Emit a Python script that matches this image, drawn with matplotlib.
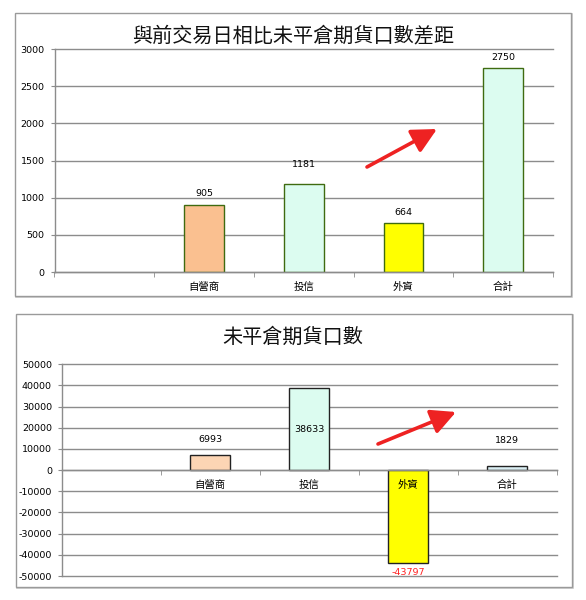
import numpy as np
import matplotlib
matplotlib.use("Agg")
import matplotlib.pyplot as plt
from matplotlib.patches import Rectangle

plt.rcParams['axes.unicode_minus'] = False
plt.rcParams['font.family'] = ['DejaVu Sans', 'Noto Sans CJK TC']

# ---------------- data ----------------
categories = ['自營商', '投信', '外資', '合計']
diff_values = [905, 1181, 664, 2750]          # 與前交易日相比未平倉期貨口數差距
oi_values = [6993, 38633, -43797, 1829]       # 未平倉期貨口數
top_title = '與前交易日相比未平倉期貨口數差距'
bottom_title = '未平倉期貨口數'
top_yticks = [0, 500, 1000, 1500, 2000, 2500, 3000]
bottom_yticks = [-50000, -40000, -30000, -20000, -10000, 0, 10000, 20000, 30000, 40000, 50000]

# ---------------- styles ----------------
top_colors = ['#FAC090', '#DCFCF0', '#FFFF00', '#DCFCF0']
top_edge = '#3F6B10'
bot_colors = ['#FCD5B4', '#DCFCF0', '#FFFF00', '#DAEEF3']
bot_edge = '#222222'
grid_c = '#8C8C8C'
axis_c = '#8C8C8C'
CJK = ['Noto Sans CJK TC', 'DejaVu Sans']

W, H = 586, 600
fig = plt.figure(figsize=(W / 100, H / 100), dpi=100)


def panel(x0, y0, x1, y1):
    # image pixel coords (top-left origin)
    fig.patches.append(Rectangle(((x0 + 1) / W, 1 - (y1 + 1) / H), (x1 - x0) / W, (y1 - y0) / H,
                                 transform=fig.transFigure, facecolor='none',
                                 edgecolor='#C8C8C8', lw=1.2, zorder=-2))
    fig.patches.append(Rectangle((x0 / W, 1 - y1 / H), (x1 - x0) / W, (y1 - y0) / H,
                                 transform=fig.transFigure, facecolor='white',
                                 edgecolor='#9A9A9A', lw=1.0, zorder=-1))


def make_axes(x0, y0, x1, y1):
    return fig.add_axes([x0 / W, 1 - y1 / H, (x1 - x0) / W, (y1 - y0) / H])


def style_axes(ax, yticks, zero_axis=False):
    ax.set_facecolor('none')
    ax.set_xlim(-0.5, len(categories) + 0.5)
    ax.set_ylim(yticks[0], yticks[-1])
    for s in ['top', 'right']:
        ax.spines[s].set_visible(False)
    if zero_axis:
        ax.spines['bottom'].set_position(('data', 0))
    for s in ['left', 'bottom']:
        ax.spines[s].set_color(axis_c)
        ax.spines[s].set_linewidth(1.0)
    for y in yticks:
        ax.axhline(y, color=grid_c, lw=1.0, zorder=0.5, clip_on=False)
    ax.set_yticks(yticks)
    ax.set_yticklabels([str(v) for v in yticks], fontsize=6.8)
    ax.tick_params(axis='y', length=3, color=axis_c, pad=4)
    xs = np.arange(1, len(categories) + 1)
    ax.set_xticks(xs)
    ax.set_xticklabels(categories, family=CJK, fontsize=7.5)
    ax.tick_params(axis='x', which='major', length=0, pad=7)
    ax.set_xticks(np.arange(-0.5, len(categories) + 1.0, 1.0), minor=True)
    ax.tick_params(axis='x', which='minor', length=3.5, color=axis_c, direction='out')
    return xs


arrow_props = dict(arrowstyle='-|>,head_length=0.75,head_width=0.38', color='#EE2222',
                   lw=2.6, mutation_scale=20, shrinkA=0, shrinkB=0)

# ---------------- top chart ----------------
panel(15, 13, 571, 296)
ax1 = make_axes(54.5, 49, 553, 272)
xs = style_axes(ax1, top_yticks)
ax1.bar(xs, diff_values, width=0.4, color=top_colors, edgecolor=top_edge, lw=1.0, zorder=1)
top_offsets = [5, 11, 4, 4]
for x, v, off in zip(xs, diff_values, top_offsets):
    ax1.annotate(str(v), (x, v), xytext=(0, off), textcoords='offset points',
                 ha='center', va='bottom', fontsize=6.8, color='black')
fig.text(293 / W, 1 - 36 / H, top_title, ha='center', va='center', family=CJK, fontsize=14.5,
         color='#111111')
ax1.annotate('', xy=(437, H - 129), xytext=(367, H - 167), xycoords='figure pixels',
             textcoords='figure pixels', arrowprops=arrow_props)

# ---------------- bottom chart ----------------
panel(16, 314, 572, 587)
ax2 = make_axes(61.7, 364.3, 556.7, 576)
xs = style_axes(ax2, bottom_yticks, zero_axis=True)
ax2.bar(xs, oi_values, width=0.4, color=bot_colors, edgecolor=bot_edge, lw=1.0, zorder=1)
for x, v in zip(xs, oi_values):
    if v < 0:
        ax2.annotate(str(v), (x, v), xytext=(0, -4), textcoords='offset points', ha='center',
                     va='top', fontsize=6.8, color='#FF2020')
    elif v > 30000:
        ax2.text(x, v / 2, str(v), ha='center', va='center', fontsize=6.8,
                 color='black', zorder=3)
    else:
        off = 8 if v > 5000 else 15
        ax2.annotate(str(v), (x, v), xytext=(0, off), textcoords='offset points', ha='center',
                     va='bottom', fontsize=6.8, color='black')
fig.text(293 / W, 1 - 337 / H, bottom_title, ha='center', va='center', family=CJK, fontsize=14.5,
         color='#111111')
ax2.annotate('', xy=(456, H - 412), xytext=(378, H - 444), xycoords='figure pixels',
             textcoords='figure pixels', arrowprops=arrow_props)

fig.savefig('out.png', dpi=100)
